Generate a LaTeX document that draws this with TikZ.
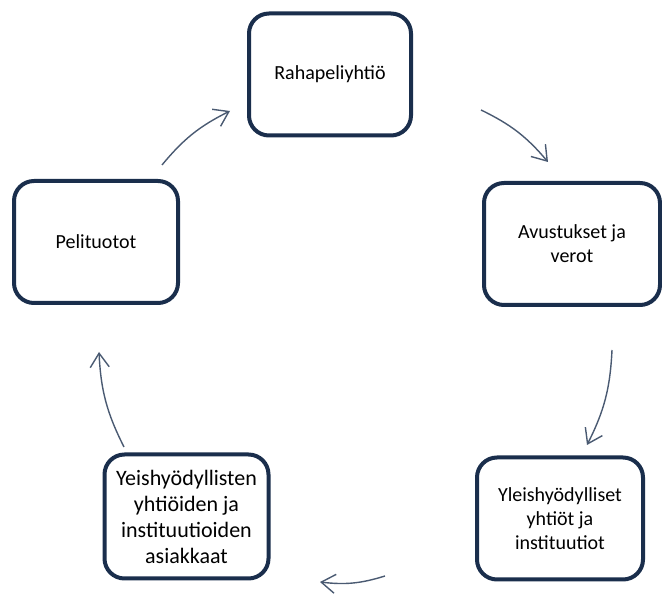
\documentclass[tikz,border=0pt]{standalone}
\usepackage{fontspec}
\setmainfont{Carlito}
\usetikzlibrary{arrows.meta}
\definecolor{boxline}{HTML}{1A2E4C}
\definecolor{arrowcol}{HTML}{4A5A72}
\tikzset{
  cyclebox/.style={draw=boxline, line width=4pt, rounded corners=20pt, fill=white,
    minimum width=164pt, minimum height=122pt, inner sep=0pt, align=center,
    font=\fontsize{20}{24}\selectfont, text=black},
  cyclearrow/.style={draw=arrowcol, line width=1.4pt,
    -{Straight Barb[length=14pt,width=19pt,line width=1.4pt]}},
}
\begin{document}
\begin{tikzpicture}[x=1pt,y=1pt]
\useasboundingbox (0,0) rectangle (662,594);
\node[cyclebox, minimum width=162pt] (top) at (330,519.5) {Rahapeliyhtiö};
\node[cyclebox, minimum width=176pt] (right) at (572,350) {Avustukset ja\\verot};
\node[cyclebox] (left) at (96,352) {Pelituotot};
\node[cyclebox, minimum height=124pt, font=\fontsize{22}{26}\selectfont] (bl) at (186.5,77.5) {Yeishyödyllisten\\yhtiöiden ja\\instituutioiden\\asiakkaat};
\node[cyclebox, minimum width=166pt] (br) at (560,75.5) {Yleishyödylliset\\yhtiöt ja\\instituutiot};
\coordinate (a1s) at (481,484); \coordinate (a1e) at (548,432);
\coordinate (a2s) at (612,244); \coordinate (a2e) at (587,149);
\coordinate (a3s) at (385,18);  \coordinate (a3e) at (320,12);
\coordinate (a4s) at (124,147); \coordinate (a4e) at (99,242);
\coordinate (a5s) at (162,429); \coordinate (a5e) at (230,483);
\draw[cyclearrow] (a1s) to[bend left=12] (a1e);
\draw[cyclearrow] (a2s) to[bend left=12] (a2e);
\draw[cyclearrow] (a3s) to[bend left=12] (a3e);
\draw[cyclearrow] (a4s) to[bend left=12] (a4e);
\draw[cyclearrow] (a5s) to[bend left=12] (a5e);
\end{tikzpicture}
\end{document}
